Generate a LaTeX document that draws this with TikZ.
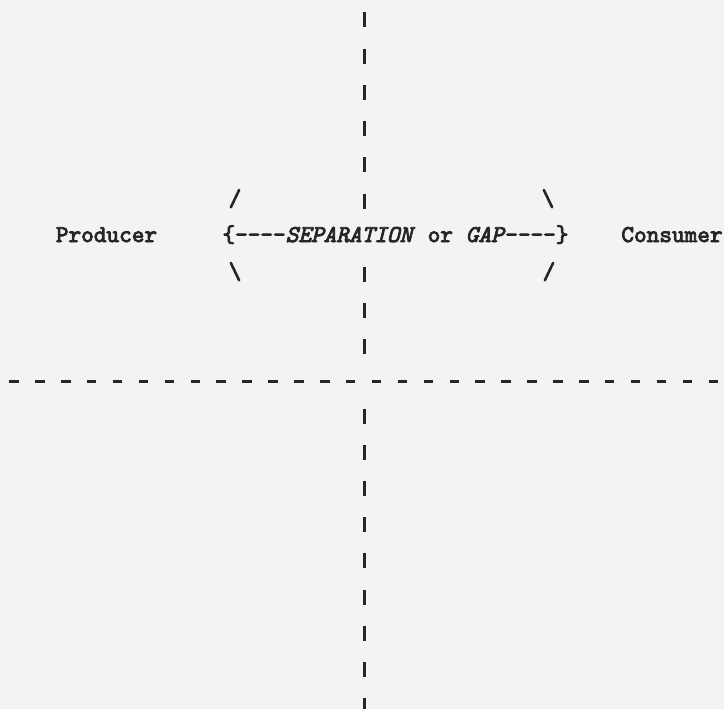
\documentclass[tikz,border=0pt]{standalone}
\usepackage{fontspec}
\setmonofont{lmmono10-regular.otf}[
    BoldFont=lmmono10-regular.otf, BoldFeatures={FakeBold=3.5},
    ItalicFont=lmmono10-italic.otf,
    BoldItalicFont=lmmono10-italic.otf, BoldItalicFeatures={FakeBold=3.5}]
\definecolor{ink}{RGB}{38,38,38}
\definecolor{paper}{RGB}{243,243,243}
\begin{document}
\begin{tikzpicture}[x=1pt, y=-1pt,
    every node/.style={inner sep=0pt, text=ink, font=\ttfamily\bfseries\fontsize{24.1}{28}\selectfont},
    bar/.style={ink, line width=3pt, dash pattern=on 15pt off 21.2pt},
    rule/.style={ink, line width=3pt, dash pattern=on 9.5pt off 16.4pt}]
            % Draw the paper
            \useasboundingbox (0,0) rectangle (724,709);
            \fill[paper] (0,0) rectangle (724,709);

            % Draw the two sides and the gap between them
            \node[anchor=base] (producer) at (106.5,242) {Producer};
            \node[anchor=base] (gap) at (395.5,242) {\{----\textit{SEPARATION} or \textit{GAP}----\}};
            \node[anchor=base] (consumer) at (672,242) {Consumer};

            % Draw the slashes round the gap
            \node[anchor=base] (upleft) at (235,206) {/};
            \node[anchor=base] (downleft) at (235,279) {\textbackslash};
            \node[anchor=base] (upright) at (548,206) {\textbackslash};
            \node[anchor=base] (downright) at (549,279) {/};

            % Ends of the dashed lines
            \coordinate (top) at (364,12.5);
            \coordinate (abovegap) at (364,208.5);
            \coordinate (belowgap) at (364,266.5);
            \coordinate (aboverule) at (364,355);
            \coordinate (belowrule) at (364,408.5);
            \coordinate (bottom) at (364,712);
            \coordinate (left) at (9.2,381);
            \coordinate (right) at (718,381);

            % Draw the vertical line
            \draw[bar] (top) -- (abovegap);
            \draw[bar] (belowgap) -- (aboverule);
            \draw[bar] (belowrule) -- (bottom);

            % Draw the horizontal line
            \draw[rule] (left) -- (right);
        \end{tikzpicture}
\end{document}
